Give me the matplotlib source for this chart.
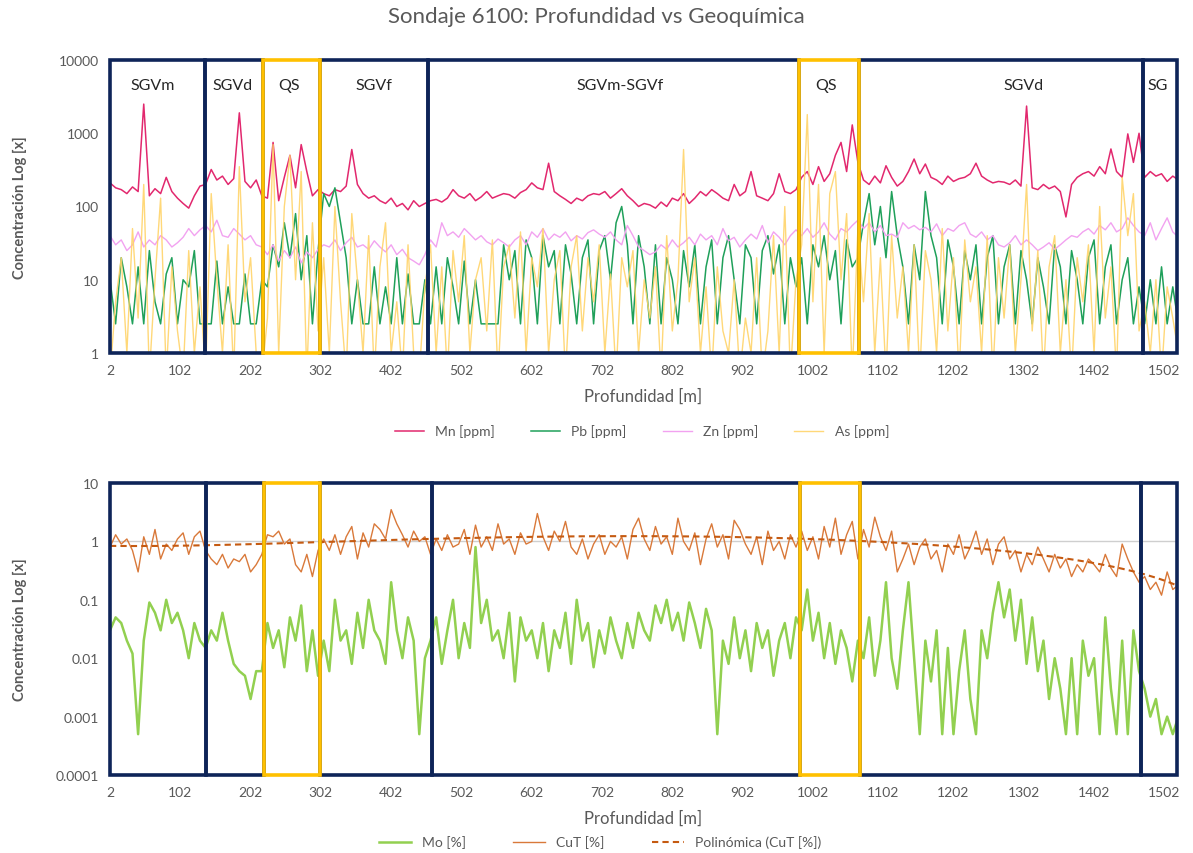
import numpy as np
import matplotlib
matplotlib.use("Agg")
import matplotlib.pyplot as plt
import matplotlib.transforms as mtransforms
from matplotlib.patches import Rectangle

plt.rcParams['font.family'] = ['Lato', 'DejaVu Sans']

# ---------------- data ----------------
depth = np.arange(2, 1523, 8)  # sample depths [m]

mn = [210, 180, 170, 150, 185, 160, 2500, 140, 175, 150,
      250, 160, 130, 110, 95, 140, 190,
      200, 320, 230, 260, 200, 240, 1900, 220, 180, 230, 140,
      130, 750, 120, 250, 500, 180, 700, 300, 140, 170,
      150, 140, 170, 160, 190, 600, 200, 150, 130, 140, 120, 110, 130, 100, 110, 90, 120, 100, 110,
      120, 125, 115, 130, 170, 140, 130, 150, 120, 135,
      160, 130, 140, 150, 145, 130, 155, 170, 210, 180,
      170, 390, 160, 140, 125, 110, 130, 120, 140, 150,
      145, 160, 130, 150, 175, 140, 120, 100, 110, 105,
      95, 115, 100, 130, 120, 150, 110, 130, 160, 140,
      170, 150, 130, 120, 200, 140, 160, 300, 140, 130,
      120, 150, 280, 160, 150, 170,
      250, 300, 200, 350, 220, 280, 500, 750, 300, 1300, 400,
      230, 200, 260, 210, 360, 250, 190, 220, 300, 445,
      280, 380, 250, 230, 200, 260, 220, 240, 250, 280,
      390, 260, 230, 210, 220, 215, 200, 230, 190, 2350,
      180, 170, 200, 175, 190, 160, 72, 200, 250, 280,
      300, 260, 350, 280, 610, 300, 250, 980, 400, 1000,
      250, 300, 260, 280, 220, 260, 230]

pb = [10, 2.5, 20, 8, 2.5, 15, 2.5, 25, 5, 2.5, 12, 20, 2.5, 10, 8, 25, 2.5,
      2.5, 2.5, 18, 2.5, 8, 2.5, 2.5, 12, 2.5, 2.5, 10,
      8, 30, 15, 60, 20, 80, 10, 40, 2.5, 25,
      150, 100, 180, 60, 20, 2.5, 10, 2.5, 2.5, 15, 2.5, 8, 2.5, 20, 2.5, 12, 2.5, 2.5, 10,
      2.5, 15, 2.5, 20, 8, 2.5, 18, 2.5, 10, 2.5,
      2.5, 2.5, 2.5, 30, 10, 25, 2.5, 35, 20, 2.5,
      40, 15, 25, 2.5, 30, 12, 2.5, 20, 35, 2.5,
      25, 40, 10, 60, 100, 30, 2.5, 40, 15, 2.5,
      30, 2.5, 20, 10, 2.5, 25, 8, 30, 2.5, 15,
      35, 2.5, 20, 40, 10, 2.5, 30, 20, 2.5, 25,
      40, 12, 30, 2.5, 20, 8,
      20, 2.5, 30, 15, 40, 10, 25, 2.5, 35, 15, 20,
      60, 150, 30, 100, 20, 160, 40, 15, 2.5, 30,
      10, 160, 40, 20, 2.5, 35, 15, 2.5, 25, 10,
      30, 2.5, 20, 40, 2.5, 15, 30, 2.5, 25, 10,
      2.5, 20, 8, 2.5, 30, 15, 2.5, 25, 10, 2.5,
      20, 35, 2.5, 15, 30, 2.5, 10, 20, 2.5, 8,
      2.5, 10, 2.5, 15, 2.5, 8, 2.5]

zn = [40, 30, 35, 25, 30, 45, 28, 35, 30, 40, 35, 28, 32, 38, 50, 40, 48,
      55, 45, 65, 40, 38, 50, 42, 35, 40, 30, 28,
      22, 30, 18, 25, 20, 28, 17, 24, 20, 26,
      30, 28, 35, 25, 32, 38, 28, 30, 26, 34, 28, 24, 30, 22, 26, 20, 18, 16, 22,
      35, 28, 60, 40, 45, 38, 50, 42, 35, 40,
      33, 30, 36, 32, 28, 35, 40, 30, 45, 38,
      50, 35, 42, 38, 45, 34, 40, 36, 44, 48,
      42, 38, 45, 35, 30, 55, 40, 28, 25, 22,
      24, 30, 26, 35, 28, 32, 38, 30, 42, 35,
      40, 30, 50, 34, 38, 28, 35, 42, 36, 55,
      32, 45, 38, 30, 40, 48,
      40, 50, 38, 45, 60, 42, 35, 50, 45, 55, 65,
      50, 60, 45, 55, 40, 42, 38, 60, 50, 55,
      48, 52, 45, 58, 40, 50, 46, 55, 60, 42,
      38, 45, 35, 40, 30, 28, 32, 40, 30, 35,
      30, 25, 28, 32, 26, 30, 35, 40, 38, 45,
      50, 42, 55, 48, 60, 45, 50, 70, 55, 45,
      40, 60, 35, 50, 70, 45, 38]

as_ = [0.5, 5, 20, 1, 50, 3, 200, 0.5, 10, 130, 0.5, 15, 2, 0.5, 25, 1, 8,
       0.5, 150, 10, 1, 30, 0.5, 350, 5, 20, 1, 0.5,
       3, 700, 1, 100, 500, 10, 300, 0.5, 60, 2,
       20, 1, 100, 5, 0.5, 80, 10, 1, 40, 0.5, 15, 60, 1, 5, 0.5, 30, 1, 0.5, 8,
       30, 1, 15, 0.5, 25, 5, 40, 1, 10, 20,
       2, 35, 0.5, 15, 30, 3, 45, 1, 20, 8,
       50, 1, 10, 25, 0.5, 15, 40, 2, 20, 5,
       30, 1, 12, 0.5, 20, 8, 25, 1, 10, 3,
       15, 0.5, 40, 2, 10, 600, 5, 20, 1, 8,
       0.5, 15, 2, 1, 10, 0.5, 3, 1, 20, 0.5,
       2, 40, 1, 100, 0.5, 10,
       30, 1800, 5, 200, 1, 150, 300, 10, 80, 0.5, 50,
       5, 80, 1, 20, 0.5, 40, 3, 15, 1, 30,
       0.5, 25, 10, 1, 50, 2, 20, 0.5, 35, 5,
       15, 1, 40, 0.5, 20, 3, 30, 1, 10, 200,
       2, 25, 0.5, 15, 40, 1, 10, 0.5, 20, 5,
       30, 1, 100, 3, 15, 0.5, 250, 40, 150, 2,
       5, 1, 10, 0.5, 8, 3, 1]

mo = [0.03, 0.05, 0.04, 0.02, 0.012, 0.0005, 0.02, 0.09, 0.06, 0.03, 0.1, 0.04, 0.06, 0.03, 0.01, 0.04, 0.02,
      0.015, 0.03, 0.02, 0.06, 0.02, 0.008, 0.006, 0.005, 0.002, 0.006, 0.006,
      0.04, 0.015, 0.03, 0.007, 0.05, 0.02, 0.08, 0.006, 0.03, 0.005,
      0.02, 0.006, 0.1, 0.02, 0.03, 0.008, 0.06, 0.015, 0.1, 0.03, 0.02, 0.008, 0.2, 0.03, 0.01, 0.05, 0.02, 0.0005, 0.01,
      0.02, 0.05, 0.008, 0.03, 0.1, 0.01, 0.04, 0.015, 0.8, 0.04,
      0.1, 0.02, 0.03, 0.01, 0.06, 0.004, 0.05, 0.02, 0.03, 0.01,
      0.04, 0.006, 0.03, 0.015, 0.06, 0.008, 0.1, 0.02, 0.04, 0.007,
      0.03, 0.012, 0.05, 0.02, 0.01, 0.04, 0.015, 0.06, 0.03, 0.02,
      0.08, 0.04, 0.1, 0.03, 0.06, 0.02, 0.09, 0.04, 0.015, 0.07,
      0.03, 0.0005, 0.02, 0.008, 0.05, 0.01, 0.03, 0.006, 0.04, 0.015,
      0.03, 0.005, 0.02, 0.04, 0.01, 0.05,
      0.03, 0.15, 0.02, 0.06, 0.01, 0.04, 0.008, 0.03, 0.015, 0.004, 0.02,
      0.01, 0.05, 0.005, 0.02, 0.2, 0.01, 0.003, 0.03, 0.2, 0.01,
      0.0005, 0.02, 0.004, 0.03, 0.0005, 0.015, 0.0005, 0.006, 0.03, 0.002,
      0.0005, 0.03, 0.01, 0.06, 0.2, 0.05, 0.15, 0.02, 0.1, 0.008,
      0.05, 0.006, 0.02, 0.002, 0.01, 0.003, 0.0005, 0.01, 0.0005, 0.02,
      0.005, 0.01, 0.0005, 0.05, 0.003, 0.0005, 0.02, 0.0005, 0.03, 0.006,
      0.003, 0.001, 0.002, 0.0005, 0.001, 0.0005, 0.001]

cut = [0.8, 1.3, 0.9, 1.1, 0.7, 0.3, 1.2, 0.6, 1.6, 0.5, 0.9, 0.7, 1.1, 1.4, 0.6, 1.2, 1.5,
       0.7, 0.5, 0.4, 0.6, 0.35, 0.5, 0.45, 0.6, 0.3, 0.4, 0.6,
       1.3, 1.2, 1.5, 0.9, 1.1, 0.4, 0.3, 0.6, 0.25, 0.7,
       1.1, 0.7, 1.3, 0.6, 1.2, 1.8, 0.5, 1.4, 0.8, 2.0, 1.6, 1.1, 3.5, 2.0, 1.3, 0.8, 1.5, 1.0, 1.2,
       0.6, 1.1, 0.7, 1.3, 0.8, 0.9, 1.6, 0.6, 1.9, 0.8,
       1.2, 0.7, 2.0, 0.9, 1.1, 0.6, 1.4, 0.9, 1.0, 3.0,
       1.2, 0.7, 1.5, 1.0, 2.2, 0.8, 0.6, 1.1, 0.5, 0.9,
       1.3, 0.6, 1.0, 0.8, 1.2, 0.5, 1.6, 2.5, 1.1, 0.7,
       1.8, 0.9, 1.2, 0.6, 2.5, 1.0, 0.7, 1.4, 0.4, 1.1,
       2.0, 0.8, 1.3, 0.5, 2.3, 1.6, 0.9, 0.6, 1.2, 0.4,
       1.5, 0.7, 1.0, 0.5, 1.3, 0.8,
       1.5, 0.7, 1.2, 0.5, 1.8, 0.8, 2.5, 0.6, 1.3, 2.2, 0.5,
       1.6, 0.8, 2.6, 1.2, 0.7, 1.5, 0.3, 0.5, 0.9, 0.4,
       0.8, 1.1, 0.5, 0.7, 0.3, 0.9, 0.6, 1.3, 0.5, 0.8,
       1.5, 0.6, 1.1, 0.4, 0.9, 1.2, 0.5, 0.7, 0.3, 0.6,
       0.4, 0.8, 0.5, 0.3, 0.6, 0.35, 0.5, 0.25, 0.4, 0.3,
       0.5, 0.4, 0.3, 0.6, 0.35, 0.25, 0.9, 0.5, 0.3, 0.2,
       0.25, 0.15, 0.2, 0.12, 0.3, 0.15, 0.18]

for name, s in [('mn', mn), ('pb', pb), ('zn', zn), ('as', as_), ('mo', mo), ('cut', cut)]:
    assert len(s) == len(depth), (name, len(s), len(depth))

zone_names = ["SGVm", "SGVd", "QS", "SGVf", "SGVm-SGVf", "QS", "SGVd", "SG"]
zone_edges_top = [2, 137, 220, 301, 455, 982, 1067, 1471, 1520]
zone_edges_bot = [2, 139, 221, 301, 460, 983, 1069, 1469, 1520]
zone_label_x = [63, 176, 257, 378, 728, 1021, 1301, 1492]
zone_is_qs = [False, False, True, False, False, True, False, False]

xticks = list(range(2, 1503, 100))
x_max = 1520
trend_order = 4

# ---------------- styling ----------------
NAVY = "#0E2458"
GOLD = "#FFC000"
GRAY = "#595959"

fig = plt.figure(figsize=(11.93, 8.54), dpi=100)
ax1 = fig.add_axes([110/1193, 1 - 354/854, 1067/1193, 293/854])
ax2 = fig.add_axes([110/1193, 1 - 776/854, 1067/1193, 292/854])

fig.text(0.5, 1 - 17/854, "Sondaje 6100: Profundidad vs Geoquímica", ha="center", va="center",
         fontsize=16, color=GRAY)

l_mn, = ax1.plot(depth, mn, color="#E2286E", lw=1.1, label="Mn [ppm]", zorder=3)
l_pb, = ax1.plot(depth, pb, color="#1FA05A", lw=1.1, label="Pb [ppm]", zorder=3)
l_zn, = ax1.plot(depth, zn, color="#F2A2F0", lw=1.0, label="Zn [ppm]", zorder=3)
l_as, = ax1.plot(depth, as_, color="#FFD46A", lw=1.0, alpha=0.9, label="As [ppm]", zorder=4)

trend = np.polyval(np.polyfit(depth, cut, trend_order), depth)
ax2.axhline(1, color="#CFCFCF", lw=1.0, zorder=1)
l_mo, = ax2.plot(depth, mo, color="#92D050", lw=1.8, label="Mo [%]", zorder=3)
l_cu, = ax2.plot(depth, cut, color="#D9793A", lw=1.0, label="CuT [%]", zorder=3)
l_tr, = ax2.plot(depth, trend, color="#C55A11", lw=1.5, ls=(0, (3, 2)), label="Polinómica (CuT [%])", zorder=4)

for ax, ylim, ticks, labels, edges in [
        (ax1, (1, 10000), [1, 10, 100, 1000, 10000], ["1", "10", "100", "1000", "10000"], zone_edges_top),
        (ax2, (0.0001, 10), [0.0001, 0.001, 0.01, 0.1, 1, 10],
         ["0.0001", "0.001", "0.01", "0.1", "1", "10"], zone_edges_bot)]:
    ax.set_yscale("log")
    ax.set_ylim(*ylim)
    ax.set_yticks(ticks)
    ax.set_yticklabels(labels)
    ax.yaxis.set_minor_locator(matplotlib.ticker.NullLocator())
    ax.set_xlim(2, x_max)
    ax.set_xticks(xticks)
    ax.set_xticklabels([str(t) for t in xticks])
    ax.tick_params(length=0, labelsize=10, colors=GRAY, pad=8)
    for sp in ax.spines.values():
        sp.set_visible(False)
    ax.set_xlabel("Profundidad [m]", fontsize=12, color=GRAY, labelpad=8)
    ax.set_ylabel("Concentración Log [x]", fontsize=10.5, color=GRAY, fontweight="bold")
    ax.yaxis.set_label_coords(-0.078, 0.5)
    trans = mtransforms.blended_transform_factory(ax.transData, ax.transAxes)
    for order in (False, True):
        for k in range(len(zone_names)):
            if zone_is_qs[k] != order:
                continue
            x0, x1 = edges[k], edges[k + 1]
            ax.add_patch(Rectangle((x0, 0), x1 - x0, 1, transform=trans, fill=False,
                                   edgecolor=GOLD if order else NAVY, lw=2.6,
                                   clip_on=False, zorder=6 if order else 5))

trans1 = mtransforms.blended_transform_factory(ax1.transData, ax1.transAxes)
for name, xl in zip(zone_names, zone_label_x):
    ax1.text(xl, 0.915, name, transform=trans1, ha="center", va="center", fontsize=11.5,
             color="#262626", zorder=7)

fig.legend(handles=[l_mn, l_pb, l_zn, l_as], loc="center", bbox_to_anchor=(642/1193, 1 - 432/854),
           ncol=4, frameon=False, fontsize=10, handlelength=2.1, columnspacing=2.6,
           labelcolor=GRAY)
fig.legend(handles=[l_mo, l_cu, l_tr], loc="center", bbox_to_anchor=(600/1193, 1 - 843/854),
           ncol=3, frameon=False, fontsize=10, handlelength=2.3, columnspacing=3.4,
           labelcolor=GRAY)

fig.savefig("out.png", dpi=100)
